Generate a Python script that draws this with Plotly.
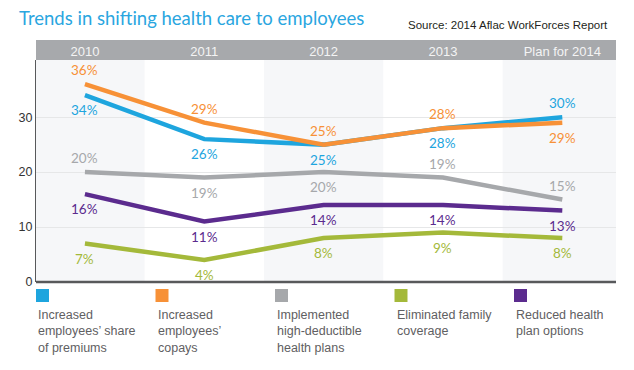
import plotly.graph_objects as go

categories = ["2010", "2011", "2012", "2013", "Plan for 2014"]
series_names = [
    "Increased<br>employees’ share<br>of premiums",
    "Increased<br>employees’<br>copays",
    "Implemented<br>high-deductible<br>health plans",
    "Eliminated family<br>coverage",
    "Reduced health<br>plan options",
]
premiums = [34, 26, 25, 28, 30]
copays = [36, 29, 25, 28, 29]
high_deductible = [20, 19, 20, 19, 15]
family_coverage = [7, 4, 8, 9, 8]
plan_options = [16, 11, 14, 14, 13]
y_ticks = [0, 10, 20, 30]

values = [premiums, copays, high_deductible, family_coverage, plan_options]
colors = ["#1ea5de", "#f79137", "#a6a8ab", "#a4b93a", "#5b2b8e"]
label_side = [
    ["below", "below", "below", "below", "above"],
    ["above", "above", "above", "above", "below"],
    ["above", "below", "below", "above", "above"],
    ["below", "below", "below", "below", "below"],
    ["below", "below", "below", "below", "below"],
]

fig = go.Figure()
for vals, col in zip(values, colors):
    fig.add_trace(go.Scatter(
        x=categories, y=vals, mode="lines",
        line=dict(color=col, width=4.5), hoverinfo="skip", showlegend=False,
    ))

annotations = []
for vals, col, sides in zip(values, colors, label_side):
    for i, (v, s) in enumerate(zip(vals, sides)):
        annotations.append(dict(
            x=i, y=v, xref="x", yref="y", text=f"{v}%", showarrow=False,
            yshift=14 if s == "above" else -15, yanchor="middle",
            font=dict(family="Lato", size=13.5, color=col),
        ))

plot_h = 222.0
plot_w = 580.0
shapes = []
# alternating column shading
for i in range(0, len(categories), 2):
    shapes.append(dict(type="rect", xref="x", yref="paper",
                       x0=i - 0.5, x1=i + 0.5, y0=0, y1=1,
                       fillcolor="#f6f7f9", line=dict(width=0), layer="below"))
# header bar
shapes.append(dict(type="rect", xref="paper", yref="paper",
                   x0=0, x1=1, y0=1, y1=1 + 20 / plot_h,
                   fillcolor="#a7a9ac", line=dict(width=0), layer="below"))
# bottom axis line
shapes.append(dict(type="line", xref="paper", yref="paper",
                   x0=0, x1=1, y0=0, y1=0,
                   line=dict(color="#58595b", width=2.5), layer="above"))

# legend (custom)
for i, (name, col) in enumerate(zip(series_names, colors)):
    x0 = i * 119.5 / plot_w
    shapes.append(dict(type="rect", xref="paper", yref="paper",
                       x0=x0, x1=x0 + 13 / plot_w,
                       y0=-7 / plot_h, y1=-20 / plot_h,
                       fillcolor=col, line=dict(width=0)))
    annotations.append(dict(
        x=x0, y=-24 / plot_h, xref="paper", yref="paper", text=name,
        showarrow=False, xanchor="left", yanchor="top", align="left",
        font=dict(family="Liberation Sans", size=12.5, color="#5f6062"),
    ))

annotations.append(dict(
    x=1 - 6 / plot_w, y=1 + 35 / plot_h, xref="paper", yref="paper",
    text="Source: 2014 Aflac WorkForces Report", showarrow=False,
    xanchor="right", yanchor="middle",
    font=dict(family="Liberation Sans", size=11.5, color="#231f20"),
))

fig.update_layout(
    width=634, height=370,
    margin=dict(l=36, r=18, t=60, b=88),
    paper_bgcolor="white", plot_bgcolor="white",
    title=dict(text="Trends in shifting health care to employees",
               x=19 / 634, xref="container", xanchor="left",
               y=1 - 19 / 370, yref="container", yanchor="middle",
               font=dict(family="Lato", size=18.5, color="#2aa6df")),
    xaxis=dict(type="category", side="top", range=[-0.41, 4.45],
               showgrid=False, zeroline=False, showline=False, ticks="",
               automargin=False,
               tickfont=dict(family="Liberation Sans", size=13, color="#f4f4f4"),
               ticklabelstandoff=0),
    yaxis=dict(range=[0, 40.4], tickvals=y_ticks, showgrid=True,
               gridcolor="#e6e7e8", gridwidth=1, zeroline=False,
               showline=True, linecolor="#58595b", linewidth=1, ticks="",
               automargin=False,
               tickfont=dict(family="Liberation Sans", size=12.5, color="#333333")),
    shapes=shapes, annotations=annotations,
)

fig.write_html("out.html", config={"displayModeBar": False},
               post_script="document.body.style.margin='0';document.body.style.overflow='hidden';")
